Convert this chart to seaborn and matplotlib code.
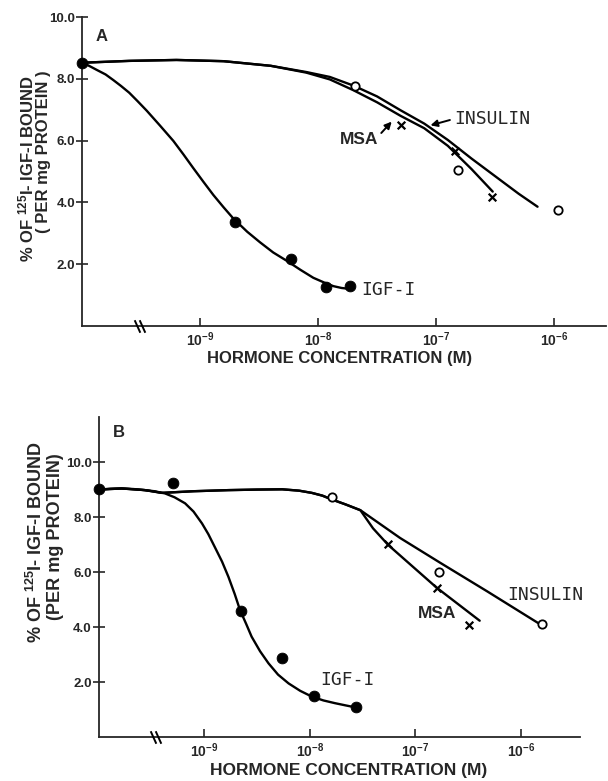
import numpy as np
import pandas as pd
import matplotlib
matplotlib.use("Agg")
import matplotlib.pyplot as plt
from matplotlib.ticker import NullLocator, FixedLocator, FixedFormatter
import seaborn as sns

# ---------------- data (x = log10 of molar hormone concentration; -10 = control position)
CONTROL_LOGX = -10.0

A_CONTROL_Y = 8.5
A_IGF_LOGX = [-8.70, -8.23, -7.93, -7.73]
A_IGF_Y = [3.38, 2.16, 1.25, 1.28]
A_INS_LOGX = [-7.69, -6.81, -5.97]
A_INS_Y = [7.77, 5.05, 3.77]
A_MSA_LOGX = [-7.30, -6.84, -6.53]
A_MSA_Y = [6.52, 5.67, 4.16]
# hand-fitted curves as drawn in the figure
A_IGF_CURVE_LOGX = [-10.0, -9.94, -9.876, -9.80, -9.735, -9.67, -9.60, -9.53, -9.452, -9.34, -9.226, -9.14, -9.057,
                    -8.97, -8.887, -8.80, -8.718, -8.60, -8.492, -8.38, -8.265, -8.15, -8.04, -7.95, -7.87, -7.80, -7.73]
A_IGF_CURVE_Y = [8.52, 8.42, 8.29, 8.14, 7.96, 7.77, 7.55, 7.28, 6.97, 6.49, 5.99, 5.55, 5.11,
                 4.66, 4.24, 3.84, 3.48, 3.05, 2.71, 2.38, 2.11, 1.82, 1.56, 1.41, 1.29, 1.23, 1.20]
A_INS_CURVE_LOGX = [-10.0, -9.6, -9.2, -8.8, -8.4, -8.1, -7.9, -7.7, -7.5, -7.3, -7.1, -6.9, -6.7, -6.5, -6.3, -6.14]
A_INS_CURVE_Y = [8.52, 8.58, 8.61, 8.57, 8.42, 8.22, 8.06, 7.78, 7.43, 6.98, 6.55, 6.02, 5.42, 4.85, 4.28, 3.86]
A_MSA_CURVE_LOGX = [-10.0, -9.6, -9.2, -8.8, -8.4, -8.1, -7.9, -7.7, -7.5, -7.3, -7.1, -6.9, -6.7, -6.52]
A_MSA_CURVE_Y = [8.52, 8.58, 8.61, 8.57, 8.42, 8.20, 7.98, 7.63, 7.24, 6.80, 6.40, 5.83, 5.08, 4.35]

B_CONTROL_Y = 9.02
B_IGF_LOGX = [-9.29, -8.65, -8.26, -7.96, -7.56]
B_IGF_Y = [9.24, 4.58, 2.87, 1.49, 1.09]
B_INS_LOGX = [-7.79, -6.78, -5.80]
B_INS_Y = [8.73, 6.00, 4.11]
B_MSA_LOGX = [-7.26, -6.79, -6.49]
B_MSA_Y = [7.02, 5.42, 4.07]
B_IGF_CURVE_LOGX = [-10.0, -9.89, -9.78, -9.67, -9.56, -9.47, -9.37, -9.28, -9.18, -9.10, -9.02, -8.96, -8.90, -8.83,
                    -8.77, -8.71, -8.66, -8.60, -8.55, -8.47, -8.39, -8.30, -8.20, -8.09, -7.98, -7.87, -7.76, -7.66, -7.57]
B_IGF_CURVE_Y = [9.00, 9.03, 9.04, 9.02, 8.98, 8.94, 8.86, 8.72, 8.50, 8.20, 7.77, 7.38, 6.92, 6.38,
                 5.83, 5.20, 4.62, 4.10, 3.65, 3.12, 2.68, 2.27, 1.95, 1.68, 1.47, 1.33, 1.23, 1.15, 1.08]
B_INS_CURVE_LOGX = [-10.0, -9.78, -9.56, -9.40, -9.1, -8.77, -8.5, -8.26, -8.1, -7.98, -7.88, -7.79, -7.66, -7.52,
                    -7.144, -6.765, -6.32, -5.83]
B_INS_CURVE_Y = [9.00, 9.04, 8.98, 8.88, 8.94, 8.98, 9.00, 9.01, 8.96, 8.88, 8.78, 8.64, 8.46, 8.25,
                 7.24, 6.34, 5.30, 4.13]
B_MSA_CURVE_LOGX = [-10.0, -9.78, -9.56, -9.40, -9.1, -8.77, -8.5, -8.26, -8.1, -7.98, -7.88, -7.79, -7.66, -7.52,
                    -7.40, -7.255, -6.80, -6.39]
B_MSA_CURVE_Y = [9.00, 9.04, 8.98, 8.88, 8.94, 8.98, 9.00, 9.01, 8.96, 8.88, 8.78, 8.64, 8.46, 8.25,
                 7.59, 6.98, 5.44, 4.23]

XTICK_LOGX = [-9, -8, -7, -6]
XTICK_LABELS = [r"$\mathregular{10^{-9}}$", r"$\mathregular{10^{-8}}$",
                r"$\mathregular{10^{-7}}$", r"$\mathregular{10^{-6}}$"]
YTICKS = [2, 4, 6, 8, 10]
YTICK_LABELS = ["2.0", "4.0", "6.0", "8.0", "10.0"]

# ---------------- style
sns.set_style("ticks")
plt.rcParams["font.family"] = ["Liberation Sans", "DejaVu Sans"]
plt.rcParams["mathtext.fontset"] = "custom"
plt.rcParams["mathtext.rm"] = "Liberation Sans:bold"
plt.rcParams["axes.linewidth"] = 1.3

W, H = 608, 781
fig = plt.figure(figsize=(W / 100, H / 100), dpi=100)


def fx(x):
    return x / W


def fy(y):
    return 1 - y / H


def make_panel(rect, xlim_log, ylim, yticks):
    ax = fig.add_axes(rect)
    ax.set_xscale("log")
    ax.set_xlim(10 ** xlim_log[0], 10 ** xlim_log[1])
    ax.set_ylim(*ylim)
    ax.xaxis.set_major_locator(FixedLocator([10.0 ** v for v in XTICK_LOGX]))
    ax.xaxis.set_major_formatter(FixedFormatter(XTICK_LABELS))
    ax.xaxis.set_minor_locator(NullLocator())
    ax.set_yticks(yticks)
    ax.set_yticklabels(YTICK_LABELS, fontweight="bold")
    ax.tick_params(axis="x", direction="in", length=6, width=1.2, labelsize=10, pad=3)
    ax.tick_params(axis="y", direction="inout", length=8, width=1.2, labelsize=9.5, pad=1)
    for lab in ax.get_xticklabels():
        lab.set_fontweight("bold")
    sns.despine(ax=ax)
    ax.set_xlabel("")
    ax.set_ylabel("")
    return ax


def draw(ax, control_y, igf, ins, msa, curves):
    for cx, cy in curves:
        sns.lineplot(x=[10.0 ** v for v in cx], y=cy, ax=ax, color="black", lw=1.7,
                     sort=False, estimator=None)
    sns.scatterplot(x=[10.0 ** CONTROL_LOGX] + [10.0 ** v for v in igf[0]], y=[control_y] + igf[1],
                    ax=ax, color="black", s=60, marker="o", edgecolor="black", zorder=5, clip_on=False)
    sns.scatterplot(x=[10.0 ** v for v in ins[0]], y=ins[1], ax=ax, facecolor="white",
                    edgecolor="black", s=36, marker="o", linewidth=1.3, zorder=5)
    sns.scatterplot(x=[10.0 ** v for v in msa[0]], y=msa[1], ax=ax, color="black",
                    s=30, marker="x", linewidth=1.6, zorder=5)


def break_mark(ax, logx):
    ax.plot([10.0 ** logx * 0.95, 10.0 ** logx * 1.05], [0, 0], ls="none", marker=[(-0.45, 1), (0.45, -1)],
            markersize=9, color="black", mew=1.4, clip_on=False, zorder=6)


# ---------------- panel A
A_XLIM = (-10.0, -5.56)
axA = make_panel([fx(82), fy(326), fx(606 - 82), (326 - 17) / H], A_XLIM, (0, 10), YTICKS)
draw(axA, A_CONTROL_Y, (A_IGF_LOGX, A_IGF_Y), (A_INS_LOGX, A_INS_Y), (A_MSA_LOGX, A_MSA_Y),
     [(A_IGF_CURVE_LOGX, A_IGF_CURVE_Y), (A_INS_CURVE_LOGX, A_INS_CURVE_Y), (A_MSA_CURVE_LOGX, A_MSA_CURVE_Y)])
break_mark(axA, -9.51)
axA.text(0.025, 0.96, "A", transform=axA.transAxes, fontsize=12, fontweight="bold", va="top", ha="left")
axA.text(10 ** -6.85, 6.69, "INSULIN", fontsize=13, family="DejaVu Sans Mono", va="center", ha="left")
axA.annotate("", xy=(10 ** -7.07, 6.47), xytext=(10 ** -6.86, 6.69),
             arrowprops=dict(arrowstyle="-|>", color="black", lw=1.4, mutation_scale=10))
axA.text(10 ** -7.49, 6.03, "MSA", fontsize=12.5, va="center", ha="right", fontweight="bold")
axA.annotate("", xy=(10 ** -7.36, 6.68), xytext=(10 ** -7.48, 6.18),
             arrowprops=dict(arrowstyle="-|>", color="black", lw=1.4, mutation_scale=10))
axA.text(10 ** -7.63, 1.17, "IGF-I", fontsize=13, family="DejaVu Sans Mono", va="center", ha="left")

fig.text(fx(340), fy(358), "HORMONE CONCENTRATION (M)", fontsize=12, fontweight="bold",
         ha="center", va="center")
fig.text(fx(26), fy(169), r"% OF $\mathregular{^{125}}$I- IGF-I BOUND", fontsize=12, fontweight="bold",
         rotation=90, ha="center", va="center")
fig.text(fx(44), fy(152), "( PER mg PROTEIN )", fontsize=12, fontweight="bold",
         rotation=90, ha="center", va="center")

# ---------------- panel B
B_XLIM = (-10.0, -5.44)
axB = make_panel([fx(98.5), fy(737), fx(580 - 98.5), (737 - 417) / H], B_XLIM, (0, 11.64), YTICKS)
draw(axB, B_CONTROL_Y, (B_IGF_LOGX, B_IGF_Y), (B_INS_LOGX, B_INS_Y), (B_MSA_LOGX, B_MSA_Y),
     [(B_IGF_CURVE_LOGX, B_IGF_CURVE_Y), (B_INS_CURVE_LOGX, B_INS_CURVE_Y), (B_MSA_CURVE_LOGX, B_MSA_CURVE_Y)])
break_mark(axB, -9.46)
axB.text(0.03, 0.975, "B", transform=axB.transAxes, fontsize=12, fontweight="bold", va="top", ha="left")
axB.text(10 ** -6.13, 5.16, "INSULIN", fontsize=13, family="DejaVu Sans Mono", va="center", ha="left")
axB.text(10 ** -6.98, 4.51, "MSA", fontsize=12.5, fontweight="bold", va="center", ha="left")
axB.text(10 ** -7.90, 2.07, "IGF-I", fontsize=13, family="DejaVu Sans Mono", va="center", ha="left")

fig.text(fx(349), fy(771), "HORMONE CONCENTRATION (M)", fontsize=12.5, fontweight="bold",
         ha="center", va="center")
fig.text(fx(36), fy(542), r"% OF $\mathregular{^{125}}$I- IGF-I BOUND", fontsize=13, fontweight="bold",
         rotation=90, ha="center", va="center")
fig.text(fx(56), fy(537), "(PER mg PROTEIN)", fontsize=13, fontweight="bold",
         rotation=90, ha="center", va="center")

fig.savefig("out.png", dpi=100)
